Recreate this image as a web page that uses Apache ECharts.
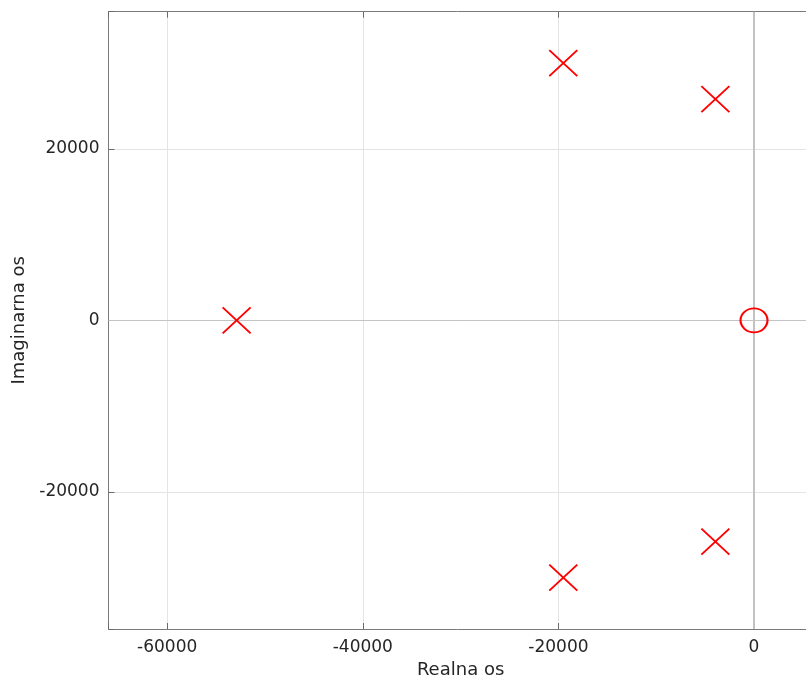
<!DOCTYPE html>
<html>
<head>
<meta charset="utf-8">
<script src="https://cdn.jsdelivr.net/npm/echarts@6/dist/echarts.min.js"></script>
<style>
html,body{margin:0;padding:0;background:#fff;}
#chart{width:806px;height:679px;}
</style>
</head>
<body>
<div id="chart"></div>
<script>
// ---- data ----
const poleRe = [-52900, -19500, -19500, -3950, -3950];
const poleIm = [0, 30000, -30000, 25800, -25800];
const zeroRe = [0];
const zeroIm = [0];
const xTicks = [-60000, -40000, -20000, 0];
const yTicks = [-20000, 0, 20000];
const xRange = [-66000, 6000];
const yRange = [-36000, 36000];
const xName = 'Realna os';
const yName = 'Imaginarna os';

const FONT = 'DejaVu Sans';
const chart = echarts.init(document.getElementById('chart'), null, {renderer: 'canvas'});

const poles = poleRe.map((r, i) => [r, poleIm[i]]);
const zeros = zeroRe.map((r, i) => [r, zeroIm[i]]);

const axisCommon = {
  type: 'value',
  minInterval: 20000,
  maxInterval: 20000,
  axisLine: {show: true, onZero: false, lineStyle: {color: '#7a7a7a', width: 1}},
  axisTick: {show: true, inside: true, length: 6, lineStyle: {color: '#6a6a6a', width: 1}},
  splitLine: {show: true, showMinLine: false, showMaxLine: false, lineStyle: {color: '#e4e4e4', width: 1}},
};

const option = {
  animation: false,
  backgroundColor: '#ffffff',
  grid: {left: 108.5, top: 11.7, right: -6.7, bottom: 50, containLabel: false, outerBoundsMode: 'none'},
  xAxis: [
    Object.assign({}, axisCommon, {
      position: 'bottom',
      min: xRange[0], max: xRange[1],
      name: xName,
      nameLocation: 'middle',
      nameGap: 29,
      nameTextStyle: {fontFamily: FONT, fontSize: 18, color: '#262626'},
      axisLabel: {
        fontFamily: FONT, fontSize: 17, color: '#262626', margin: 10,
        formatter: v => xTicks.includes(v) ? String(v) : ''
      }
    }),
    Object.assign({}, axisCommon, {
      position: 'top',
      min: xRange[0], max: xRange[1],
      splitLine: {show: false},
      axisLabel: {show: false}
    })
  ],
  yAxis: [
    Object.assign({}, axisCommon, {
      position: 'left',
      min: yRange[0], max: yRange[1],
      name: yName,
      nameLocation: 'middle',
      nameGap: 80,
      nameTextStyle: {fontFamily: FONT, fontSize: 18, color: '#262626'},
      axisLabel: {
        fontFamily: FONT, fontSize: 17, color: '#262626', margin: 9,
        formatter: v => yTicks.includes(v) ? String(v) : ''
      }
    })
  ],
  series: [
    {
      type: 'scatter',
      xAxisIndex: 0, yAxisIndex: 0,
      data: [],
      silent: true,
      markLine: {
        silent: true,
        symbol: ['none', 'none'],
        label: {show: false},
        animation: false,
        data: [
          {xAxis: 0, lineStyle: {color: '#c2c2c2', width: 2, type: 'solid'}},
          {yAxis: 0, lineStyle: {color: '#c4c4c4', width: 1, type: 'solid'}}
        ]
      },
      z: 1
    },
    {
      name: 'poles',
      type: 'scatter',
      xAxisIndex: 0, yAxisIndex: 0,
      data: poles,
      symbol: 'path://M0 0L10 10M10 0L0 10',
      symbolSize: [28, 26],
      itemStyle: {color: 'none', borderColor: '#ff0000', borderWidth: 1.8, opacity: 1},
      emphasis: {disabled: true},
      silent: true,
      z: 5
    },
    {
      name: 'zeros',
      type: 'scatter',
      xAxisIndex: 0, yAxisIndex: 0,
      data: zeros,
      symbol: 'circle',
      symbolSize: [27, 24],
      itemStyle: {color: 'none', borderColor: '#ff0000', borderWidth: 2, opacity: 1},
      emphasis: {disabled: true},
      silent: true,
      z: 5
    }
  ]
};
chart.setOption(option);
</script>
</body>
</html>
